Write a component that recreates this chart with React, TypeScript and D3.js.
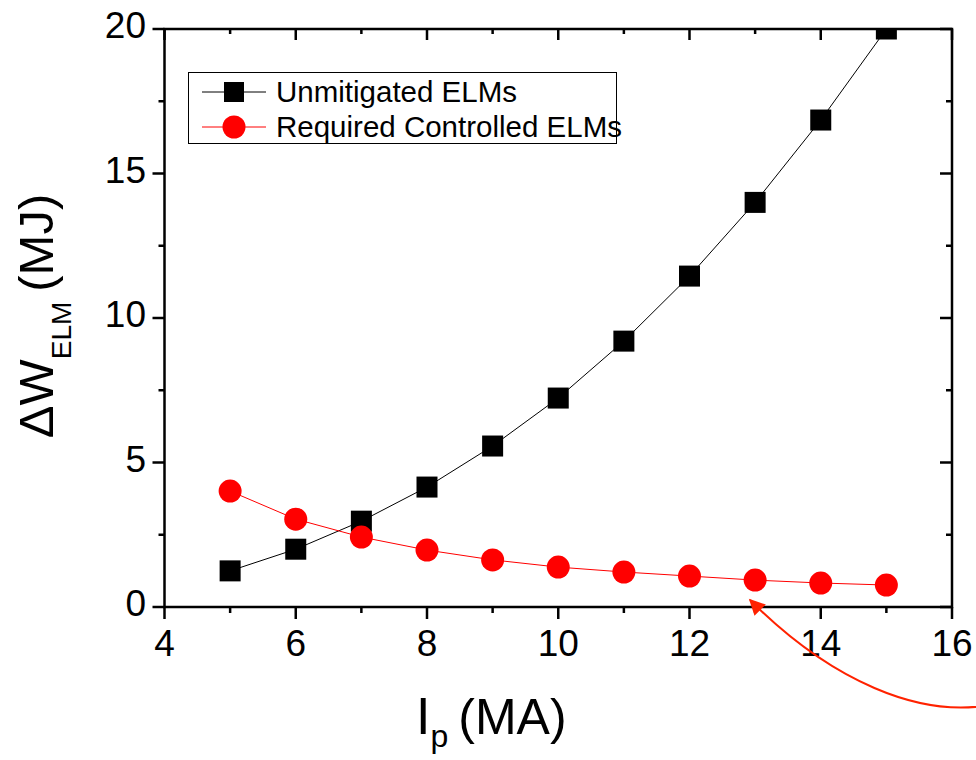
import React from "react";
import * as d3 from "d3";

const currents = [5, 6, 7, 8, 9, 10, 11, 12, 13, 14, 15];
const unmitigated = [1.25, 2.0, 2.97, 4.15, 5.57, 7.23, 9.2, 11.45, 14.0, 16.85, 20.0];
const required = [4.01, 3.04, 2.42, 1.97, 1.63, 1.38, 1.21, 1.07, 0.93, 0.83, 0.76];
const xMajor = [4, 6, 8, 10, 12, 14, 16];
const xMinor = [5, 7, 9, 11, 13, 15];
const yMajor = [0, 5, 10, 15, 20];
const yMinor = [2.5, 7.5, 12.5, 17.5];
const seriesNames = ["Unmitigated ELMs", "Required Controlled ELMs"];

const FONT = "'Liberation Sans', Arial, sans-serif";
const RED = "#ff0000";

export default function App() {
  const x = d3.scaleLinear().domain([4, 16]).range([164.5, 952]);
  const y = d3.scaleLinear().domain([0, 20]).range([607, 29]);
  const line = d3
    .line<[number, number]>()
    .x((d) => x(d[0]))
    .y((d) => y(d[1]));
  const blackPts: [number, number][] = currents.map((c, i) => [c, unmitigated[i]]);
  const redPts: [number, number][] = currents.map((c, i) => [c, required[i]]);
  const x0 = x.range()[0], x1 = x.range()[1];
  const y0 = y.range()[0], y1 = y.range()[1];
  const sq = 21;
  const axisW = 2.5;

  return (
    <svg
      width={976}
      height={760}
      style={{ position: "absolute", left: 0, top: 0, background: "#fff" }}
      fontFamily={FONT}
    >
      <defs>
        <clipPath id="plotclip">
          <rect x={x0} y={y1} width={x1 - x0} height={y0 - y1} />
        </clipPath>
        <marker
          id="arrowhead"
          viewBox="0 0 10 10"
          refX={9}
          refY={5}
          markerWidth={22}
          markerHeight={16}
          markerUnits="userSpaceOnUse"
          orient="auto"
        >
          <path d="M0,0 L10,5 L0,10 Z" fill="#ff2200" />
        </marker>
      </defs>

      {/* data lines */}
      <g clipPath="url(#plotclip)">
        <path d={line(blackPts) || ""} fill="none" stroke="#000" strokeWidth={1} />
        {blackPts.map((p, i) => (
          <rect
            key={"s" + i}
            x={x(p[0]) - sq / 2}
            y={y(p[1]) - sq / 2}
            width={sq}
            height={sq}
            fill="#000"
          />
        ))}
      </g>
      <path d={line(redPts) || ""} fill="none" stroke={RED} strokeWidth={1} />
      {redPts.map((p, i) => (
        <circle key={"c" + i} cx={x(p[0])} cy={y(p[1])} r={11.5} fill={RED} />
      ))}

      {/* axes frame */}
      <rect
        x={x0}
        y={y1}
        width={x1 - x0}
        height={y0 - y1}
        fill="none"
        stroke="#000"
        strokeWidth={axisW}
      />
      {xMajor.map((v) => (
        <line key={"bx" + v} x1={x(v)} x2={x(v)} y1={y0} y2={y0 + 12} stroke="#000" strokeWidth={axisW} />
      ))}
      {xMinor.map((v) => (
        <line key={"bxm" + v} x1={x(v)} x2={x(v)} y1={y0} y2={y0 + 6} stroke="#000" strokeWidth={axisW} />
      ))}
      {xMajor.map((v) => (
        <line key={"tx" + v} x1={x(v)} x2={x(v)} y1={y1} y2={y1 + 11} stroke="#000" strokeWidth={axisW} />
      ))}
      {xMinor.map((v) => (
        <line key={"txm" + v} x1={x(v)} x2={x(v)} y1={y1} y2={y1 + 5} stroke="#000" strokeWidth={axisW} />
      ))}
      {yMajor.map((v) => (
        <line key={"ly" + v} x1={x0 - 12} x2={x0} y1={y(v)} y2={y(v)} stroke="#000" strokeWidth={axisW} />
      ))}
      {yMinor.map((v) => (
        <line key={"lym" + v} x1={x0 - 6} x2={x0} y1={y(v)} y2={y(v)} stroke="#000" strokeWidth={axisW} />
      ))}
      {yMajor.map((v) => (
        <line key={"ry" + v} x1={x1 - 12} x2={x1} y1={y(v)} y2={y(v)} stroke="#000" strokeWidth={axisW} />
      ))}
      {yMinor.map((v) => (
        <line key={"rym" + v} x1={x1 - 6} x2={x1} y1={y(v)} y2={y(v)} stroke="#000" strokeWidth={axisW} />
      ))}

      {/* tick labels */}
      {xMajor.map((v) => (
        <text key={"xl" + v} x={x(v)} y={656} textAnchor="middle" fontSize={37} fill="#000">
          {v}
        </text>
      ))}
      {yMajor.map((v) => (
        <text key={"yl" + v} x={146} y={y(v) + 9} textAnchor="end" fontSize={37} fill="#000">
          {v}
        </text>
      ))}

      {/* axis labels */}
      <text x={416} y={734} fontSize={52} fill="#000">
        I
        <tspan fontSize={32} dy={13} dx={0}>p</tspan>
        <tspan fontSize={50} dy={-13} dx={10}>(MA)</tspan>
      </text>
      <text
        transform="translate(53,316) rotate(-90)"
        textAnchor="middle"
        fontSize={49}
        fill="#000"
      >
        ΔW
        <tspan fontSize={28} dy={18}>ELM</tspan>
        <tspan dy={-18} dx={10}>(MJ)</tspan>
      </text>

      {/* legend */}
      <rect x={188.5} y={72.5} width={428} height={71} fill="#fff" stroke="#000" strokeWidth={1} />
      <line x1={202} x2={266} y1={92} y2={92} stroke="#000" strokeWidth={1} />
      <rect x={234 - 10} y={92 - 10} width={20} height={20} fill="#000" />
      <text x={276} y={102} fontSize={29.5} fill="#000">
        {seriesNames[0]}
      </text>
      <line x1={202} x2={266} y1={127} y2={127} stroke={RED} strokeWidth={1} />
      <circle cx={234} cy={127} r={11.5} fill={RED} />
      <text x={276} y={137} fontSize={29.5} fill="#000">
        {seriesNames[1]}
      </text>

      {/* annotation arrow */}
      <path
        d="M 995 704 C 920 720, 830 680, 750 600"
        fill="none"
        stroke="#ff2200"
        strokeWidth={2}
        markerEnd="url(#arrowhead)"
      />
    </svg>
  );
}
